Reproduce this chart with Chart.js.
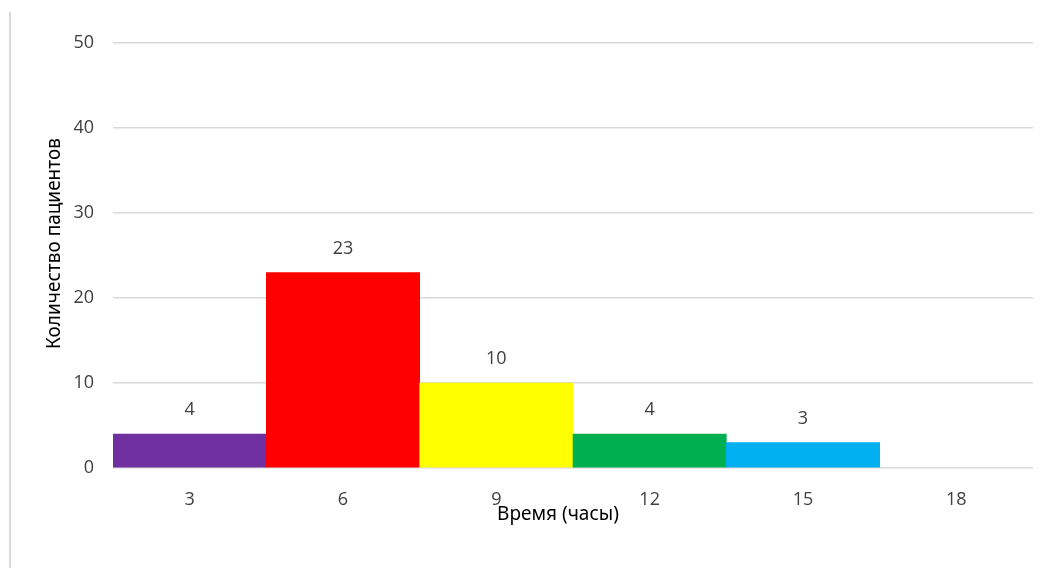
<!DOCTYPE html>
<html>
<head>
<meta charset="utf-8">
<script src="https://cdn.jsdelivr.net/npm/chart.js@4.4.0/dist/chart.umd.min.js"></script>
<style>
    html, body { margin: 0; padding: 0; background: #fff; }
    #wrap { position: relative; width: 1057px; height: 568px; }
    #frame { position: absolute; left: 9px; top: 12px; bottom: 0; border-left: 2px solid #d9d9d9; }
    canvas { position: absolute; left: 0; top: 0; }
</style>
</head>
<body>
<div id="wrap">
    <div id="frame"></div>
    <canvas id="hist" width="1057" height="568"></canvas>
</div>
<script>
const hours = ['3', '6', '9', '12', '15', '18'];
const patients = [4, 23, 10, 4, 3, null];
const barColors = ['#7030a0', '#ff0000', '#ffff00', '#00b050', '#00b0f0', '#ffffff'];
const xTitle = 'Время (часы)';
const yTitle = 'Количество пациентов';

const tickFont = { family: 'Open Sans', size: 18 };

// value labels above each bar
const valueLabels = {
    id: 'valueLabels',
    afterDatasetsDraw: (chart) => {
        const ctx = chart.ctx;
        const meta = chart.getDatasetMeta(0);
        ctx.save();
        ctx.font = '18px "Open Sans"';
        ctx.fillStyle = '#404040';
        ctx.textAlign = 'center';
        ctx.textBaseline = 'middle';
        meta.data.forEach((bar, i) => {
            const v = patients[i];
            if (v === null || v === undefined) return;
            ctx.fillText(String(v), bar.x, bar.y - 24);
        });
        ctx.restore();
    }
};

// axis titles, placed a little off-centre like the original layout
const axisTitles = {
    id: 'axisTitles',
    afterDraw: (chart) => {
        const ctx = chart.ctx;
        const area = chart.chartArea;
        ctx.save();
        ctx.font = '19px "Noto Sans"';
        ctx.fillStyle = '#000';
        ctx.textAlign = 'center';
        ctx.textBaseline = 'middle';
        ctx.fillText(xTitle, (area.left + area.right) / 2 - 15, 515);
        ctx.translate(55, (area.top + area.bottom) / 2 - 12);
        ctx.rotate(-Math.PI / 2);
        ctx.fillText(yTitle, 0, 0);
        ctx.restore();
    }
};

new Chart(document.getElementById('hist'), {
    type: 'bar',
    data: {
        labels: hours,
        datasets: [{
            data: patients,
            backgroundColor: barColors,
            borderWidth: 0,
            barPercentage: 1,
            categoryPercentage: 1
        }]
    },
    options: {
        responsive: false,
        animation: false,
        layout: { padding: { top: 43, right: 24, bottom: 0, left: 0 } },
        plugins: {
            legend: { display: false },
            tooltip: { enabled: false }
        },
        scales: {
            x: {
                grid: { display: false },
                border: { display: false },
                ticks: { color: '#404040', font: tickFont, padding: 13 },
                afterFit: (scale) => { scale.height = 100; }
            },
            y: {
                min: 0,
                max: 50,
                ticks: { stepSize: 10, color: '#404040', font: tickFont, padding: 19 },
                grid: { color: '#d9d9d9', lineWidth: 1.5, drawTicks: false },
                border: { display: false },
                afterFit: (scale) => { scale.width = 113; }
            }
        }
    },
    plugins: [valueLabels, axisTitles]
});
</script>
</body>
</html>
